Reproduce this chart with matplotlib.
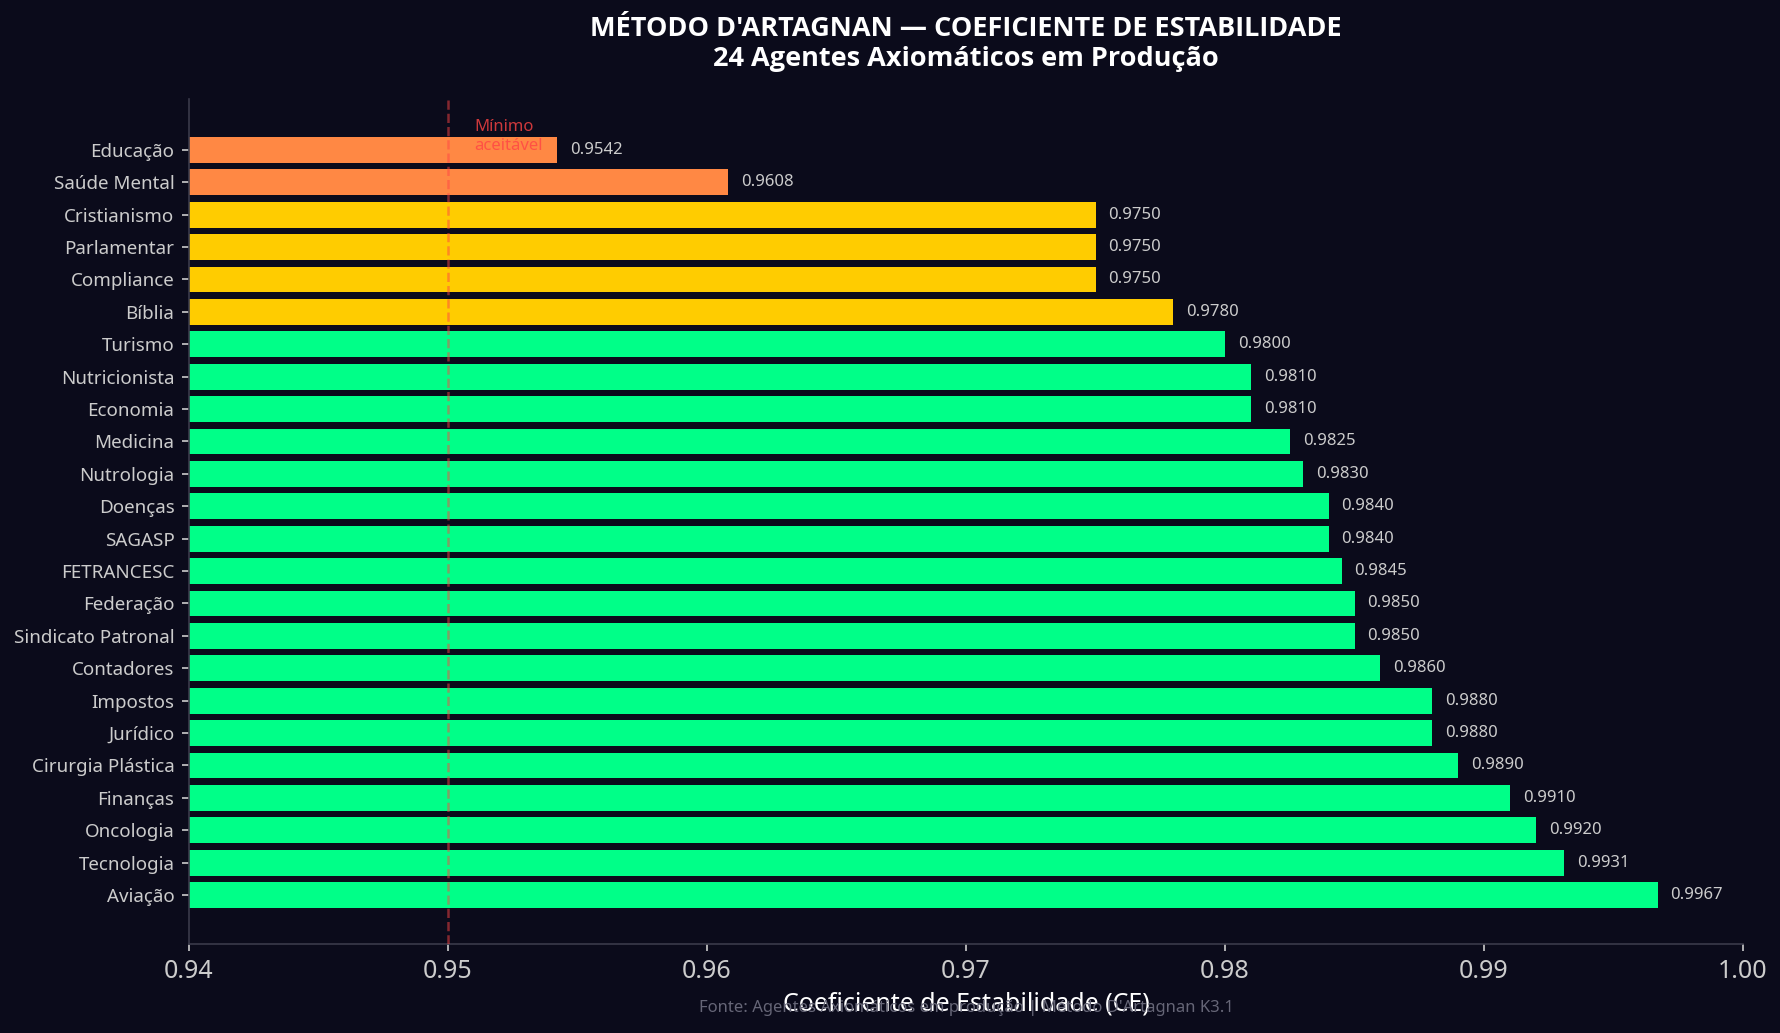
import matplotlib.pyplot as plt

plt.rcParams['font.family'] = ['Noto Sans', 'DejaVu Sans']

# agentes, de baixo (maior CE) para cima (menor CE)
agentes = ['Aviação', 'Tecnologia', 'Oncologia', 'Finanças', 'Cirurgia Plástica',
           'Jurídico', 'Impostos', 'Contadores', 'Sindicato Patronal', 'Federação',
           'FETRANCESC', 'SAGASP', 'Doenças', 'Nutrologia', 'Medicina', 'Economia',
           'Nutricionista', 'Turismo', 'Bíblia', 'Compliance', 'Parlamentar',
           'Cristianismo', 'Saúde Mental', 'Educação']
ce = [0.9967, 0.9931, 0.9920, 0.9910, 0.9890,
      0.9880, 0.9880, 0.9860, 0.9850, 0.9850,
      0.9845, 0.9840, 0.9840, 0.9830, 0.9825, 0.9810,
      0.9810, 0.9800, 0.9780, 0.9750, 0.9750,
      0.9750, 0.9608, 0.9542]
minimo = 0.95

bg = '#0b0b1b'


def cor(v):
    if v < 0.97:
        return '#ff8844'
    if v < 0.98:
        return '#ffcc00'
    return '#00ff88'


cores = [cor(v) for v in ce]

fig, ax = plt.subplots(figsize=(1780 / 150, 1033 / 150), dpi=150)
fig.patch.set_facecolor(bg)
ax.set_facecolor(bg)
fig.subplots_adjust(left=189 / 1780, right=1743 / 1780, top=1 - 99 / 1033, bottom=1 - 944 / 1033)

y = list(range(len(agentes)))
ax.barh(y, ce, color=cores, height=0.8)
for yi, v in zip(y, ce):
    ax.text(v + 0.0005, yi, f'{v:.4f}', va='center', ha='left', color='#cccccc', fontsize=8)

ax.axvline(minimo, color='#ff4444', linestyle='--', linewidth=1.2, alpha=0.5, zorder=3)
ax.text(minimo + 0.001, len(agentes) - 0.59, 'Mínimo\naceitável', color='#ff4444',
        fontsize=8, alpha=0.8, va='center', ha='left', linespacing=1.2)

ax.set_yticks(y)
ax.set_yticklabels(agentes)
ax.set_ylim(-1.51, len(agentes) - 1 + 1.57)
ax.set_xlim(0.94, 1.0)
ax.set_xticks([0.94, 0.95, 0.96, 0.97, 0.98, 0.99, 1.00])
ax.set_xticklabels(['0.94', '0.95', '0.96', '0.97', '0.98', '0.99', '1.00'])
ax.tick_params(axis='y', colors='#cccccc', labelsize=9)
ax.tick_params(axis='x', colors='#cccccc', labelsize=12)

for s in ['top', 'right']:
    ax.spines[s].set_visible(False)
for s in ['left', 'bottom']:
    ax.spines[s].set_color('#3a3a4a')

ax.set_xlabel('Coeficiente de Estabilidade (CE)', color='white', fontsize=12, labelpad=4)
ax.set_title("MÉTODO D'ARTAGNAN — COEFICIENTE DE ESTABILIDADE\n24 Agentes Axiomáticos em Produção",
             color='white', fontsize=13, fontweight='bold', pad=16,
             family=['Open Sans', 'DejaVu Sans'])
ax.text(0.5, -0.076, "Fonte: Agentes Axiomáticos em produção | Método D'Artagnan K3.1",
        transform=ax.transAxes, ha='center', va='center', color='#666677', fontsize=8)

fig.savefig('out.png', dpi=150, facecolor=bg)
